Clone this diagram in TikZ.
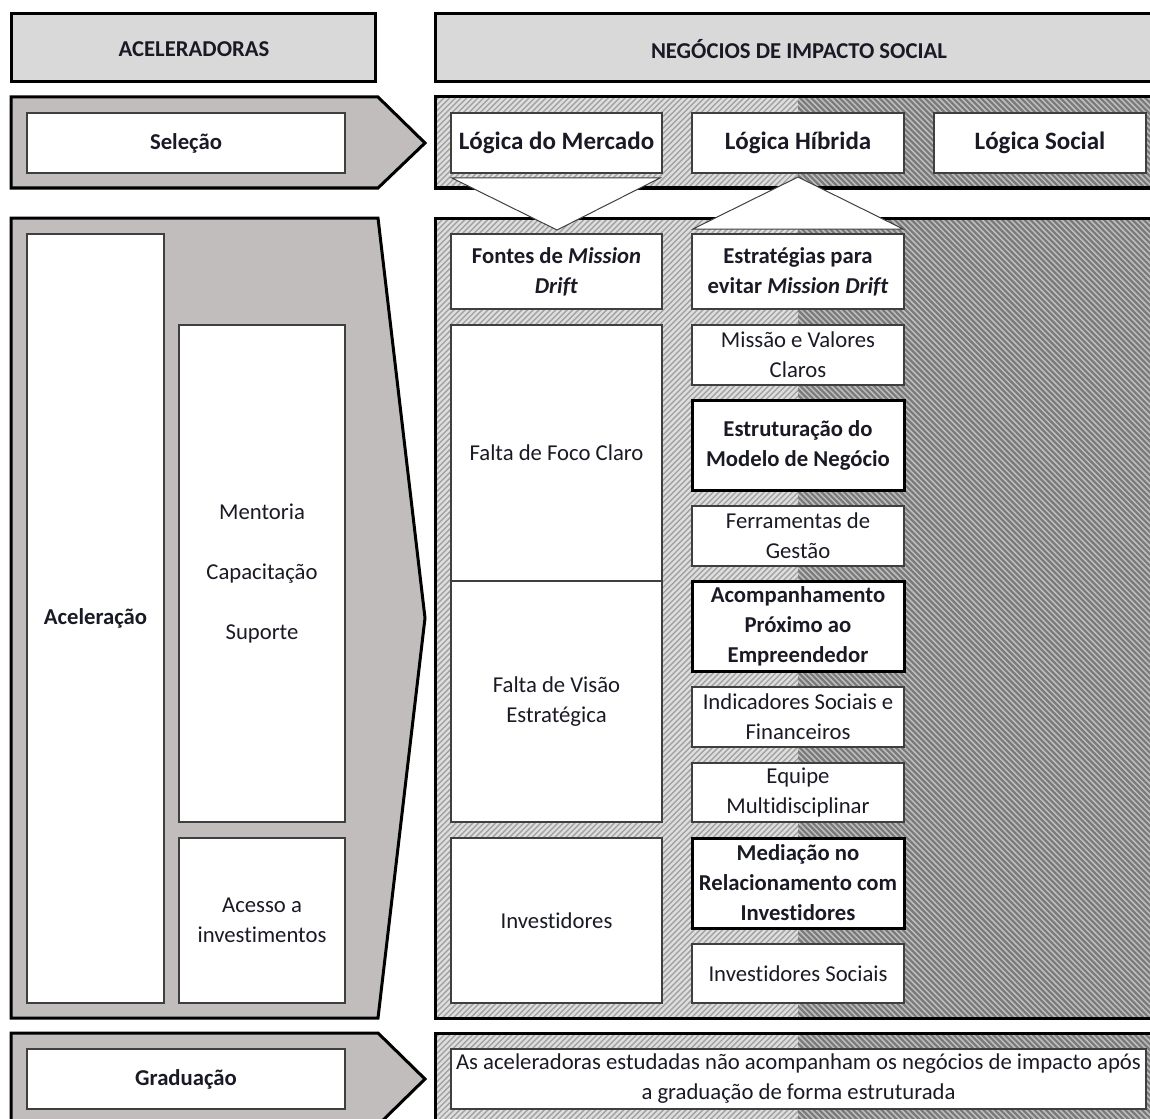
\documentclass[tikz,border=0pt]{standalone}
\usepackage{fontspec}
\setmainfont{Carlito}[Ligatures=NoCommon]
\definecolor{hdr}{HTML}{D9D9D9}
\definecolor{arr}{HTML}{C0BDBC}
\definecolor{bxline}{HTML}{3F3F3F}
\definecolor{lhbase}{HTML}{DEDEDE}
\definecolor{lhline}{HTML}{A2A2A2}
\definecolor{dhbase}{HTML}{7A7A7A}
\definecolor{dhline}{HTML}{BEBEBE}
\definecolor{txtc}{HTML}{1A1A26}
\begin{document}
\begin{tikzpicture}[x=1pt,y=-1pt,
  txt/.style={font=\fontsize{22.7}{30}\selectfont, align=center, text=txtc},
  bold/.style={font=\fontsize{22.7}{30}\selectfont\bfseries},
  bigtxt/.style={font=\fontsize{25}{30}\selectfont\bfseries, align=center, text=txtc},
  box/.style={draw=bxline, line width=1.6pt, fill=white, inner sep=0pt, outer sep=0pt, anchor=north west, txt},
  thickbox/.style={box, draw=black, line width=3pt},
  outer/.style={draw=black, line width=3pt, line join=miter},
  hdrbox/.style={outer, fill=hdr},
  arrowshape/.style={outer, fill=arr},
  lhl/.style={draw=lhline, line width=1.4pt},
  dhl/.style={draw=dhline, line width=1.5pt},
  tri/.style={fill=white, draw=bxline, line width=1pt, line join=miter}
]
\useasboundingbox (0,0) rectangle (1150,1118);
\clip (0,0) rectangle (1150,1118);

% headers
\draw[hdrbox] (11,14) rectangle (375,82);
\node[txt, bold] (acH) at (194,49) {ACELERADORAS};
\draw[hdrbox] (435,14) rectangle (1153,82);
\node[txt, bold] (negH) at (799,49) {NEGÓCIOS DE IMPACTO SOCIAL};

% right panels with hatching
\foreach \ya/\yb/\off/\n in {97/188/100/90, 218/1018/810/215, 1033/1125/100/90}{
  \begin{scope}
    \clip (435,\ya) rectangle (798,\yb);
    \fill[lhbase] (435,\ya) rectangle (798,\yb);
    \foreach \k in {0,...,\n}{
      \draw[lhl] ({435-\off+\k*5.66},{\yb+2}) -- ++(830,-830);
    }
  \end{scope}
  \begin{scope}
    \clip (798,\ya) rectangle (1153,\yb);
    \fill[dhbase] (798,\ya) rectangle (1153,\yb);
    \foreach \k in {0,...,\n}{
      \draw[dhl] ({798-\off+\k*5.66},{\ya-2}) -- ++(830,830);
    }
  \end{scope}
  \draw[outer] (435,\ya) rectangle (1153,\yb);
}

% left arrows
\draw[arrowshape] (11,97) -- (378,97) -- (425,143) -- (378,188) -- (11,188) -- cycle;
\draw[arrowshape] (11,218) -- (378,218) -- (425,618) -- (378,1018) -- (11,1018) -- cycle;
\draw[arrowshape] (11,1033) -- (378,1033) -- (425,1079) -- (378,1125) -- (11,1125) -- cycle;

% triangles
\draw[tri] (452,178) -- (660,178) -- (557,230) -- cycle;
\draw[tri] (798,177) -- (903,229) -- (693,229) -- cycle;

% left boxes
\node[box, bold, minimum width=318pt, minimum height=60pt] (sel) at (27,113) {Seleção};
\node[box, bold, minimum width=137pt, minimum height=769pt] (acel) at (27,234) {Aceleração};
\node[box, minimum width=166pt, minimum height=497pt] (ment) at (179,325) {Mentoria\\[30pt]Capacitação\\[30pt]Suporte};
\node[box, minimum width=166pt, minimum height=165pt] (acesso) at (179,838) {Acesso a\\investimentos};
\node[box, bold, minimum width=318pt, minimum height=60pt] (grad) at (27,1049) {Graduação};

% logics
\node[box, bigtxt, minimum width=211pt, minimum height=60pt] (merc) at (451,113) {Lógica do Mercado};
\node[box, bigtxt, minimum width=212pt, minimum height=60pt] (hib) at (692,113) {Lógica Híbrida};
\node[box, bigtxt, minimum width=212pt, minimum height=60pt] (soc) at (934,113) {Lógica Social};

% middle column
\node[box, bold, minimum width=211pt, minimum height=75pt] (fontes) at (451,234) {Fontes de \textit{Mission}\\\textit{Drift}};
\node[box, minimum width=211pt, minimum height=256pt] (foco) at (451,325) {Falta de Foco Claro};
\node[box, minimum width=211pt, minimum height=241pt] (visao) at (451,581) {Falta de Visão\\Estratégica};
\node[box, minimum width=211pt, minimum height=165pt] (invL) at (451,838) {Investidores};

% right column
\node[box, bold, minimum width=212pt, minimum height=75pt] (estr) at (692,234) {Estratégias para\\evitar \textit{Mission Drift}};
\node[box, minimum width=212pt, minimum height=60pt] (missao) at (692,325) {Missão e Valores\\Claros};
\node[thickbox, bold, minimum width=212pt, minimum height=90pt] (estru) at (692,400) {Estruturação do\\Modelo de Negócio};
\node[box, minimum width=212pt, minimum height=60pt] (ferr) at (692,506) {Ferramentas de\\Gestão};
\node[thickbox, bold, minimum width=212pt, minimum height=90pt] (acomp) at (692,581) {Acompanhamento\\Próximo ao\\Empreendedor};
\node[box, minimum width=212pt, minimum height=60pt] (indic) at (692,687) {Indicadores Sociais e\\Financeiros};
\node[box, minimum width=212pt, minimum height=59pt] (equipe) at (692,763) {Equipe\\Multidisciplinar};
\node[thickbox, bold, minimum width=212pt, minimum height=90pt] (media) at (692,838) {Mediação no\\Relacionamento com\\Investidores};
\node[box, minimum width=212pt, minimum height=59pt] (invS) at (692,944) {Investidores Sociais};

% bottom
\node[box, minimum width=695pt, minimum height=60pt] (final) at (451,1049) {As aceleradoras estudadas não acompanham os negócios de impacto após\\a graduação de forma estruturada};
\end{tikzpicture}
\end{document}
